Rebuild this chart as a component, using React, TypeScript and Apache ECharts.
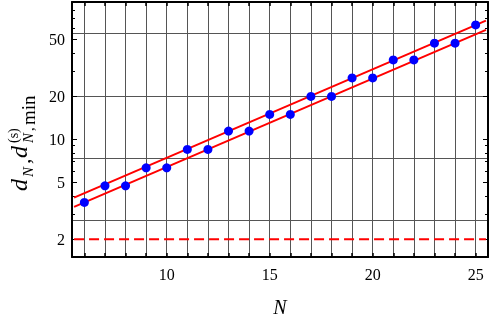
import React, { useEffect, useRef } from 'react';
import * as echarts from 'echarts';

// ---- data ----
const nValues = [6, 7, 8, 9, 10, 11, 12, 13, 14, 15, 16, 17, 18, 19, 20, 21, 22, 23, 24, 25];
const dValues = [3.61, 4.72, 4.72, 6.3, 6.3, 8.48, 8.48, 11.4, 11.4, 14.9, 14.9, 19.9, 19.9, 26.8, 26.8, 35.8, 35.8, 46.9, 46.9, 62.9];
const upperFitN = [5.5, 25.5];
const upperFitD = [3.9, 67.5];
const lowerFitN = [5.5, 25.5];
const lowerFitD = [3.36, 58.1];
const boundN = [5.5, 25.5];
const boundD = [2, 2];
const xTickValues = [6, 7, 8, 9, 10, 11, 12, 13, 14, 15, 16, 17, 18, 19, 20, 21, 22, 23, 24, 25];
const xLabelValues = [10, 15, 20, 25];
const yLabelValues = [2, 5, 10, 20, 50];
const yMinorTickValues = [3, 4, 6, 7, 8, 9, 30, 40, 60, 70, 80, 90];
const yGridValues = [Math.E, Math.E ** 2, Math.E ** 3, Math.E ** 4];
const xRange = [5.4, 25.6];
const yRange = [1.5, 91];

const FONT = "Liberation Serif, Times New Roman, serif";
const lg = (v: number) => Math.log10(v);

const titlePieces = [
  { t: 'd', x: 19, y: 191, size: 24, italic: true },
  { t: 'N', x: 28, y: 177, size: 15, italic: true },
  { t: ',', x: 22, y: 164, size: 22, italic: false },
  { t: 'd', x: 19, y: 158, size: 24, italic: true },
  { t: '(s)', x: 13, y: 143, size: 14, italic: false },
  { t: 'N', x: 28, y: 143, size: 15, italic: true },
  { t: ',', x: 29, y: 131, size: 15, italic: false },
  { t: 'min', x: 28, y: 125, size: 19, italic: false },
];

export default function App() {
  const ref = useRef<HTMLDivElement>(null);
  useEffect(() => {
    if (!ref.current) return;
    const chart = echarts.init(ref.current, null, { renderer: 'svg' });
    const yMin = lg(yRange[0]);
    const yMax = lg(yRange[1]);
    const frameLine = { show: true, onZero: false, lineStyle: { color: '#000', width: 2 } };
    const baseY = {
      type: 'value' as const,
      min: yMin,
      max: yMax,
      axisLine: { show: false },
      axisLabel: { show: false },
      splitLine: { show: false },
      axisTick: { show: false },
    };
    const option: any = {
      animation: false,
      grid: { left: 72, right: 10, top: 2, bottom: 67, containLabel: false },
      xAxis: [
        {
          type: 'value',
          min: xRange[0],
          max: xRange[1],
          position: 'bottom',
          axisLine: frameLine,
          axisTick: { show: true, inside: true, length: 4, customValues: xTickValues, lineStyle: { color: '#000', width: 1.5 } },
          axisLabel: { customValues: xLabelValues, fontFamily: FONT, fontSize: 16, color: '#000', margin: 9 },
          splitLine: { show: true, lineStyle: { color: '#555', width: 1 } },
          name: 'N',
          nameLocation: 'middle',
          nameGap: 40,
          nameTextStyle: { fontFamily: FONT, fontStyle: 'italic', fontSize: 20, color: '#000' },
        },
        {
          type: 'value',
          min: xRange[0],
          max: xRange[1],
          position: 'top',
          axisLine: frameLine,
          axisTick: { show: true, inside: true, length: 4, customValues: xTickValues, lineStyle: { color: '#000', width: 1.5 } },
          axisLabel: { show: false },
          splitLine: { show: false },
        },
      ],
      yAxis: [
        {
          ...baseY,
          position: 'left',
          axisLine: frameLine,
          axisTick: { show: true, inside: true, length: 5, customValues: yLabelValues.map(lg), lineStyle: { color: '#000', width: 1 } },
          axisLabel: {
            show: true,
            customValues: yLabelValues.map(lg),
            formatter: (v: number) => String(Math.round(10 ** v)),
            fontFamily: FONT,
            fontSize: 16,
            color: '#000',
            margin: 7,
          },
        },
        {
          ...baseY,
          position: 'left',
          axisTick: { show: true, inside: true, length: 3, customValues: yMinorTickValues.map(lg), lineStyle: { color: '#000', width: 1 } },
        },
        {
          ...baseY,
          position: 'right',
          axisLine: frameLine,
          axisTick: { show: true, inside: true, length: 5, customValues: yLabelValues.map(lg), lineStyle: { color: '#000', width: 1 } },
        },
        {
          ...baseY,
          position: 'right',
          axisTick: { show: true, inside: true, length: 3, customValues: yMinorTickValues.map(lg), lineStyle: { color: '#000', width: 1 } },
        },
        {
          ...baseY,
          position: 'left',
          axisTick: { show: false, customValues: yGridValues.map(lg) },
          splitLine: { show: true, lineStyle: { color: '#555', width: 1 } },
        },
      ],
      series: [
        {
          type: 'line',
          data: upperFitN.map((n, i) => [n, lg(upperFitD[i])]),
          symbol: 'none',
          lineStyle: { color: '#ff0000', width: 2 },
          z: 3,
        },
        {
          type: 'line',
          data: lowerFitN.map((n, i) => [n, lg(lowerFitD[i])]),
          symbol: 'none',
          lineStyle: { color: '#ff0000', width: 2 },
          z: 3,
        },
        {
          type: 'line',
          data: boundN.map((n, i) => [n, lg(boundD[i])]),
          symbol: 'none',
          lineStyle: { color: '#ff0000', width: 2, type: [10, 5] },
          z: 3,
        },
        {
          type: 'scatter',
          data: nValues.map((n, i) => [n, lg(dValues[i])]),
          symbol: 'circle',
          symbolSize: 9,
          itemStyle: { color: '#0000ff', opacity: 1 },
          z: 4,
        },
      ],
      graphic: titlePieces.map((p) => ({
        type: 'text',
        x: p.x,
        y: p.y,
        rotation: Math.PI / 2,
        style: {
          text: p.t,
          fontFamily: FONT,
          fontSize: p.size,
          fontStyle: p.italic ? 'italic' : 'normal',
          fill: '#000',
          align: 'left',
          verticalAlign: 'middle',
        },
      })),
    };
    chart.setOption(option);
    return () => chart.dispose();
  }, []);
  return <div ref={ref} style={{ position: 'fixed', left: 0, top: 0, width: 498, height: 324 }} />;
}
